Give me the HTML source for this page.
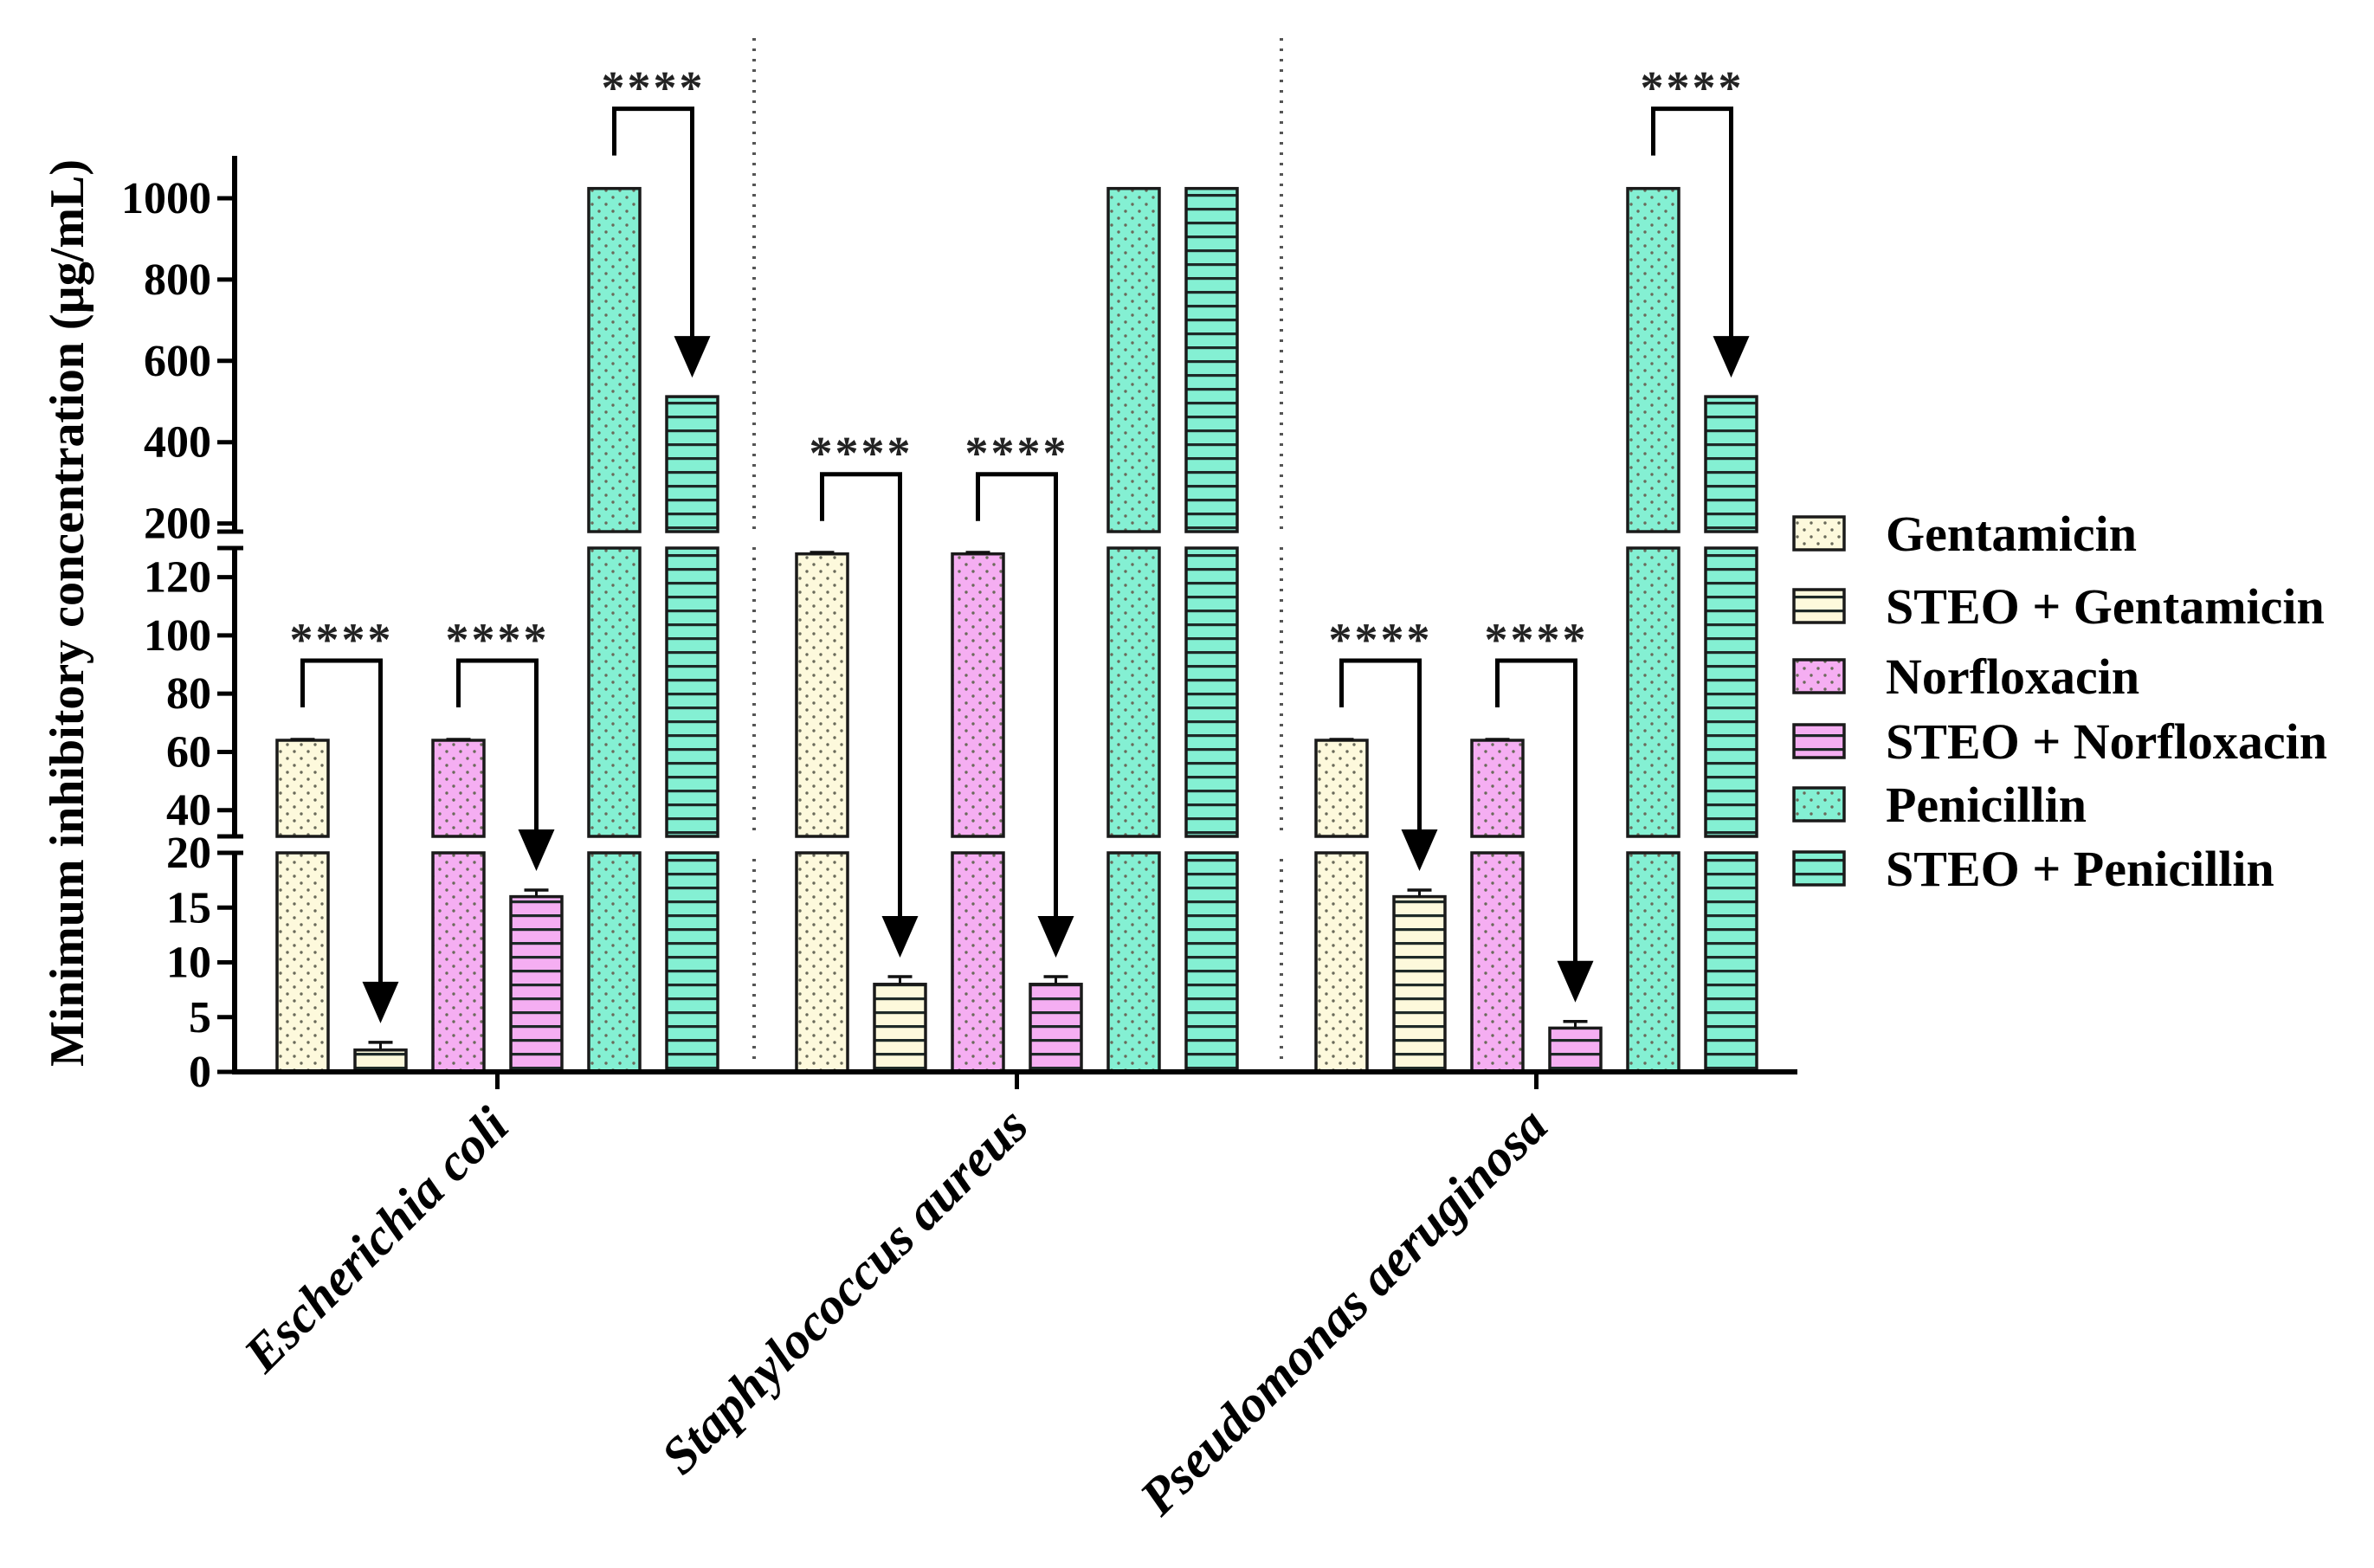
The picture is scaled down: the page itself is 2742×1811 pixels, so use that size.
<!DOCTYPE html>
<html><head><meta charset="utf-8"><style>
html,body{margin:0;padding:0;background:#fff;}
svg{display:block;}
svg text{font-family:"Liberation Serif","DejaVu Serif",serif;}
</style></head><body>
<svg id="chart" width="2742" height="1811" viewBox="0 0 2742 1811" xmlns="http://www.w3.org/2000/svg">
<defs id="defs"></defs>
<g id="plot"></g>
</svg>
<script>
const categories = ["Escherichia coli", "Staphylococcus aureus", "Pseudomonas aeruginosa"];
const seriesNames = ["Gentamicin", "STEO + Gentamicin", "Norfloxacin", "STEO + Norfloxacin", "Penicillin", "STEO + Penicillin"];
const gentamicin = [64, 128, 64];
const steoGentamicin = [2, 8, 16];
const norfloxacin = [64, 128, 64];
const steoNorfloxacin = [16, 8, 4];
const penicillin = [1024, 1024, 1024];
const steoPenicillin = [512, 1024, 512];
const errGentamicin = [0.3, 0.5, 0.3];
const errSteoGentamicin = [0.7, 0.7, 0.6];
const errNorfloxacin = [0.3, 0.5, 0.3];
const errSteoNorfloxacin = [0.6, 0.7, 0.6];
const lowTicks = [0, 5, 10, 15, 20];
const midTicks = [40, 60, 80, 100, 120];
const highTicks = [200, 400, 600, 800, 1000];
// significance comparisons: [category, leftSeries, rightSeries, label]
const comparisons = [[0,0,1,"****"],[0,2,3,"****"],[0,4,5,"****"],[1,0,1,"****"],[1,2,3,"****"],[2,0,1,"****"],[2,2,3,"****"],[2,4,5,"****"]];

const values = [gentamicin, steoGentamicin, norfloxacin, steoNorfloxacin, penicillin, steoPenicillin];
const errs = [errGentamicin, errSteoGentamicin, errNorfloxacin, errSteoNorfloxacin, null, null];
const colors = ["#fdf9dc", "#fdf9dc", "#f5aef2", "#f5aef2", "#84f0d3", "#84f0d3"];
const patterns = ["dots","lines","dots","lines","dots","lines"];
const FONT = '"Liberation Serif", "DejaVu Serif", serif';

const NS = "http://www.w3.org/2000/svg";
const defs = document.getElementById("defs");
const plot = document.getElementById("plot");
function mk(tag, attrs, parent){const e=document.createElementNS(NS,tag);for(const k in attrs)e.setAttribute(k,attrs[k]);if(tag==="text")e.setAttribute("font-family",FONT);(parent||plot).appendChild(e);return e;}

const segs = [
  {lo:0, hi:20, y0:1238, y1:985},
  {lo:31, hi:130, y0:966, y1:633},
  {lo:180, hi:1100, y0:614, y1:182}
];
function segY(s,v){return s.y0 + (v - s.lo)/(s.hi - s.lo)*(s.y1 - s.y0);}
function yScale(v){
  for(const s of segs){ if(v<=s.hi) return segY(s, Math.max(v, s.lo)); }
  return segY(segs[2], v);
}
const groupStart = 320, groupStep = 600, barStep = 90, barW = 59;
function xBar(c, i){return groupStart + c*groupStep + i*barStep;}
const axisX = 271, axisY = 1238;

colors.forEach((col,i)=>{
  const p = mk("pattern",{id:"pat"+i, patternUnits:"userSpaceOnUse", width:16, height:16}, defs);
  mk("rect",{x:0,y:0,width:16,height:16,fill:col},p);
  if(patterns[i]==="dots"){
    mk("circle",{cx:4,cy:4,r:1.7,fill:"#6a6a5a"},p);
    mk("circle",{cx:12,cy:12,r:1.7,fill:"#6a6a5a"},p);
  } else {
    mk("rect",{x:0,y:0,width:16,height:3.2,fill:"#1e2a28"},p);
  }
});

[871, 1480].forEach(x=>{
  const l = mk("line",{x1:x,y1:44,x2:x,y2:1232,stroke:"#555","stroke-width":4,"stroke-dasharray":"3 9"});
  
  
});

for(let c=0;c<categories.length;c++){
  for(let i=0;i<values.length;i++){
    const v = values[i][c];
    const g = mk("g",{});
    
    
    const x = xBar(c,i);
    for(const s of segs){
      if(v > s.lo){
        const top = segY(s, Math.min(v, s.hi));
        const bot = segY(s, s.lo);
        mk("rect",{x:x,y:top,width:barW,height:bot-top,fill:"url(#pat"+i+")",stroke:"#1a1a1a","stroke-width":3.5},g);
      }
    }
    const e = errs[i] ? errs[i][c] : 0.3;
    if(v<=130){
      const cx = x+barW/2, yt = yScale(v+e), yb = yScale(v);
      mk("line",{x1:cx,y1:yt,x2:cx,y2:yb,stroke:"#111","stroke-width":3},g);
      mk("line",{x1:cx-14,y1:yt,x2:cx+14,y2:yt,stroke:"#111","stroke-width":3.5},g);
    }
  }
}

[[966,985],[614,633]].forEach(b=>{
  mk("rect",{x:axisX+10,y:b[0]+2,width:1800,height:b[1]-b[0]-4,fill:"#fff"});
});

const yAxis = mk("g",{});


segs.forEach((s,k)=>{
  const top = k===2 ? 180 : s.y1;
  mk("line",{x1:axisX,y1:top,x2:axisX,y2:s.y0,stroke:"#000","stroke-width":6},yAxis);
  if(k>0) mk("line",{x1:axisX-20,y1:s.y0,x2:axisX+10,y2:s.y0,stroke:"#000","stroke-width":5},yAxis);
  if(k<2) mk("line",{x1:axisX-20,y1:s.y1,x2:axisX+10,y2:s.y1,stroke:"#000","stroke-width":5},yAxis);
});
[[lowTicks,0],[midTicks,1],[highTicks,2]].forEach(([ticks,k])=>{
  ticks.forEach(t=>{
    const y = segY(segs[k], t);
    mk("line",{x1:axisX-20,y1:y,x2:axisX,y2:y,stroke:"#000","stroke-width":5},yAxis);
    const tx = mk("text",{x:244,y:y+17,"text-anchor":"end","font-size":52,"font-weight":"bold"},yAxis);
    tx.textContent = t;
    
    
  });
});
const yt = mk("text",{x:0,y:0,"text-anchor":"middle","font-size":56,"font-weight":"bold",transform:"translate(96,708) rotate(-90)"});
yt.textContent = "Minimum inhibitory concentration (µg/mL)";



const xAxis = mk("g",{});


mk("line",{x1:axisX-3,y1:axisY,x2:2076,y2:axisY,stroke:"#000","stroke-width":6},xAxis);
categories.forEach((cat,c)=>{
  const cx = (xBar(c,0) + xBar(c,5) + barW)/2;
  mk("line",{x1:cx,y1:axisY,x2:cx,y2:axisY+20,stroke:"#000","stroke-width":5},xAxis);
  const t = mk("text",{x:0,y:0,"text-anchor":"end","font-size":60,"font-weight":"bold","font-style":"italic",transform:"translate("+(cx+16)+","+(axisY+66)+") rotate(-45)"},xAxis);
  t.textContent = cat;
  
  
});

comparisons.forEach(([c,a,b,lab])=>{
  const g = mk("g",{});
  
  
  const xa = xBar(c,a)+barW/2, xb = xBar(c,b)+barW/2;
  const ya = yScale(values[a][c]);
  const eb = errs[b] ? errs[b][c] : 0;
  const yb = yScale(values[b][c] + eb);
  const top = ya - 92, legBot = ya - 38, tip = yb - 22;
  mk("polyline",{points:xa+","+legBot+" "+xa+","+top+" "+xb+","+top+" "+xb+","+(tip-44),fill:"none",stroke:"#000","stroke-width":5},g);
  mk("polygon",{points:(xb-21)+","+(tip-48)+" "+(xb+21)+","+(tip-48)+" "+xb+","+tip,fill:"#000"},g);
  const s = mk("text",{x:(xa+xb)/2,y:top-6,"text-anchor":"middle","font-size":54,"font-weight":"bold",fill:"#222","letter-spacing":"3"},g);
  s.textContent = lab;
});

const leg = mk("g",{});


const legY = [617,701,782,857,930,1004];
seriesNames.forEach((n,i)=>{
  const e = mk("g",{},leg);
  
  
  mk("rect",{x:2072,y:legY[i]-20,width:58,height:38,fill:"url(#pat"+i+")",stroke:"#1a1a1a","stroke-width":3.5},e);
  const t = mk("text",{x:2178,y:legY[i]+19,"font-size":58,"font-weight":"bold"},e);
  t.textContent = n;
});
</script>
</body></html>
